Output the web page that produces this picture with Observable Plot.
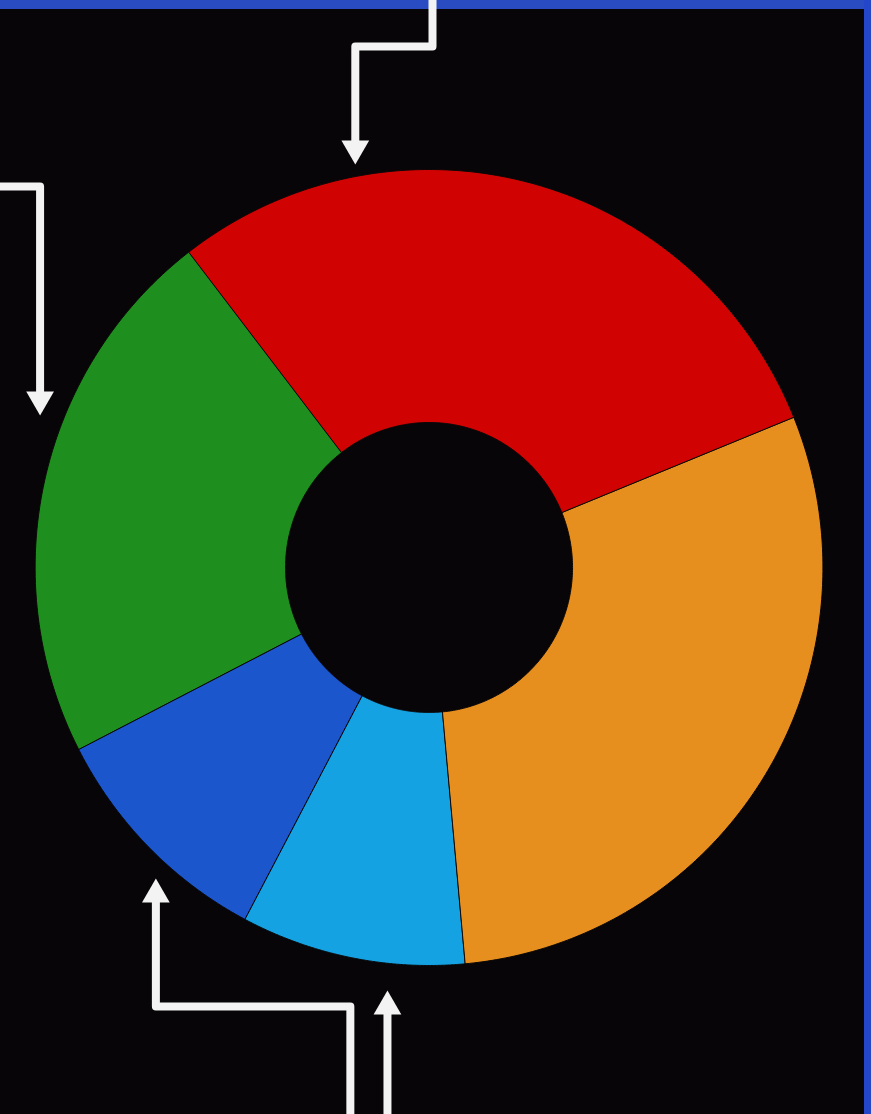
<!DOCTYPE html>
<html>
<head>
<meta charset="utf-8">
<script src="https://cdn.jsdelivr.net/npm/d3@7"></script>
<script src="https://cdn.jsdelivr.net/npm/@observablehq/plot@0.6"></script>
<style>
  html, body { margin: 0; padding: 0; background: #070507; }
  body { position: relative; width: 871px; height: 1114px; overflow: hidden; }
  #topbar { position: absolute; left: 0; top: 0; width: 871px; height: 9px; background: #2a4cc2; }
  #rightbar { position: absolute; right: 0; top: 0; width: 7px; height: 1114px; background: #2446c8; }
  #chart { position: absolute; left: 0; top: 9px; width: 864px; height: 1105px; z-index: 2; }
  #chart svg { overflow: visible !important; background: transparent !important; }
</style>
</head>
<body>
<div id="topbar"></div>
<div id="rightbar"></div>
<div id="chart"></div>
<script>
// ---- data ----
const categories = ["Red", "Orange", "Light blue", "Blue", "Green"];
const values = [29.3, 29.7, 9.2, 9.7, 22.1];
const colors = ["#d00202", "#e68e1e", "#14a2e2", "#1c56cc", "#1e8e1e"];
const startAngleDeg = -37.6;   // first slice starts here (clockwise from top)
const outerRadius = 398;
const innerRadius = 145;

// annotation arrows (chart units, centre of donut = 0,0, y up)
const arrowShafts = [
  {id: "top",        pts: [[3.5, 575], [3.5, 521], [-74.5, 521], [-74.5, 419]]},
  {id: "left",       pts: [[-445, 381], [-393, 381], [-393, 168]]},
  {id: "bottomLeft", pts: [[-79.5, -556], [-79.5, -439], [-276, -439], [-276, -327]]},
  {id: "bottom",     pts: [[-42, -556], [-42, -439]]}
];
const arrowTips = [
  {id: "top",        x: -74.5, y: 403,  dir: "down"},
  {id: "left",       x: -393,  y: 152,  dir: "down"},
  {id: "bottomLeft", x: -276,  y: -311, dir: "up"},
  {id: "bottom",     x: -42,   y: -423, dir: "up"}
];

// ---- build slice outlines from values ----
const pie = d3.pie().sort(null).value(d => d.value)
  .startAngle(startAngleDeg * Math.PI / 180)
  .endAngle(startAngleDeg * Math.PI / 180 + 2 * Math.PI);
const arcs = pie(categories.map((c, i) => ({cat: c, value: values[i]})));
const slicePts = [];
const N = 160;
for (const a of arcs) {
  const c = a.data.cat;
  for (let k = 0; k <= N; k++) {
    const t = a.startAngle + (a.endAngle - a.startAngle) * k / N;
    slicePts.push({cat: c, x: outerRadius * Math.sin(t), y: outerRadius * Math.cos(t)});
  }
  for (let k = N; k >= 0; k--) {
    const t = a.startAngle + (a.endAngle - a.startAngle) * k / N;
    slicePts.push({cat: c, x: innerRadius * Math.sin(t), y: innerRadius * Math.cos(t)});
  }
}

const shaftPts = arrowShafts.flatMap(s => s.pts.map(([x, y]) => ({id: s.id, x, y})));
const headLen = 24;
const heads = arrowTips.map(t => ({
  ...t,
  cy: t.dir === "down" ? t.y + headLen * 2 / 3 : t.y - headLen * 2 / 3,
  rot: t.dir === "down" ? 180 : 0
}));

const chart = Plot.plot({
  width: 864,
  height: 1105,
  margin: 0,
  x: {domain: [-433, 440], axis: null},
  y: {domain: [-547, 558], axis: null},
  color: {type: "ordinal", domain: categories, range: colors},
  style: {background: "transparent"},
  marks: [
    Plot.line(slicePts, {x: "x", y: "y", z: "cat", fill: "cat", stroke: "#0b0708", strokeWidth: 1, curve: "linear-closed"}),
    Plot.line(shaftPts, {x: "x", y: "y", z: "id", stroke: "#f3f3f3", strokeWidth: 8, strokeLinejoin: "round", strokeLinecap: "butt"}),
    Plot.dot(heads, {x: "x", y: "cy", symbol: "triangle", r: 10.3, fill: "#f3f3f3", stroke: "none", rotate: "rot"})
  ]
});
document.getElementById("chart").appendChild(chart);
</script>
</body>
</html>
